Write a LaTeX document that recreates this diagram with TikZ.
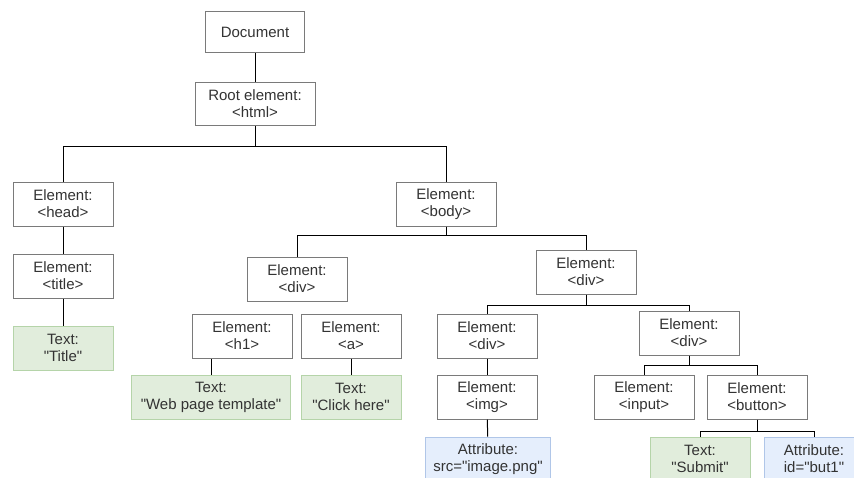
\documentclass[tikz,border=0pt]{standalone}
\usepackage{fontspec}
\setmainfont{Liberation Sans}
\definecolor{boxline}{HTML}{7A7A7A}
\definecolor{txtfill}{HTML}{E1EDDC}
\definecolor{txtline}{HTML}{B5D4A9}
\definecolor{attrfill}{HTML}{E5EEFC}
\definecolor{attrline}{HTML}{B0C6E8}
\definecolor{ink}{HTML}{333333}
% straight double quotes round a value
\newcommand\qval[1]{\textquotedbl#1\textquotedbl}
\begin{document}
\begin{tikzpicture}[x=1pt,y=-1pt,
    elem/.style={draw=boxline,line width=1pt,fill=white,minimum width=100pt,minimum height=44pt,
      inner sep=0pt,align=center,text=ink,font=\fontsize{15}{17}\selectfont},
    txt/.style={elem,draw=txtline,fill=txtfill},
    attr/.style={elem,draw=attrline,fill=attrfill},
    link/.style={line width=1pt,black}]
  \clip (0,0) rectangle (854,477);
  \fill[white] (0,0) rectangle (854,477);
  % top of the tree
  \node[elem,minimum width=99pt,minimum height=41pt] (doc) at (255,32) {Document};
  \node[elem,minimum width=120pt,minimum height=43pt] (root) at (255,104) {Root element:\\<html>};
  \node[elem] (head) at (63,204) {Element:\\<head>};
  \node[elem] (body) at (446,204) {Element:\\<body>};
  \node[elem] (title) at (63,276) {Element:\\<title>};
  \node[txt] (ttitle) at (63,348) {Text:\\\qval{Title}};
  % left div
  \node[elem] (div1) at (297,279) {Element:\\<div>};
  \node[elem] (h1) at (242,336) {Element:\\<h1>};
  \node[elem] (a) at (351,336) {Element:\\<a>};
  \node[txt,minimum width=159pt] (twpt) at (211,397) {Text:\\\qval{Web page template}};
  \node[txt] (tclick) at (351,397) {Text:\\\qval{Click here}};
  % right div
  \node[elem] (div2) at (586,272) {Element:\\<div>};
  \node[elem] (div3) at (487,336) {Element:\\<div>};
  \node[elem] (div4) at (689,333) {Element:\\<div>};
  \node[elem] (img) at (487,397) {Element:\\<img>};
  \node[attr,minimum width=125pt] (asrc) at (488,459) {Attribute:\\src=\qval{image.png}};
  \node[elem] (input) at (644,397) {Element:\\<input>};
  \node[elem] (button) at (757,397) {Element:\\<button>};
  \node[txt] (tsub) at (700,459) {Text:\\\qval{Submit}};
  \node[attr] (aid) at (814,459) {Attribute:\\id=\qval{but1}};
  % connectors
  \draw[link] (doc) -- (root);
  \draw[link] (root.south) -- ++(0,20) -| (head.north);
  \draw[link] (root.south) -- ++(0,20) -| (body.north);
  \draw[link] (head) -- (title);
  \draw[link] (title) -- (ttitle);
  \draw[link] (body.south) -- ++(0,9) -| (div1.north);
  \draw[link] (body.south) -- ++(0,9) -| (div2.north);
  \draw[link] (twpt.north) -- (twpt.north |- h1.south);
  \draw[link] (a) -- (tclick);
  \draw[link] (div2.south) -- ++(0,11) -| (div3.north);
  \draw[link] (div2.south) -- ++(0,11) -| (div4.north);
  \draw[link] (div3) -- (img);
  \draw[link] (img) -- (asrc);
  \draw[link] (div4.south) -- ++(0,10) -| (input.north);
  \draw[link] (div4.south) -- ++(0,10) -| (button.north);
  \draw[link] (button.south) -- ++(0,12) -| (tsub.north);
  \draw[link] (button.south) -- ++(0,12) -| (aid.north);
\end{tikzpicture}
\end{document}
